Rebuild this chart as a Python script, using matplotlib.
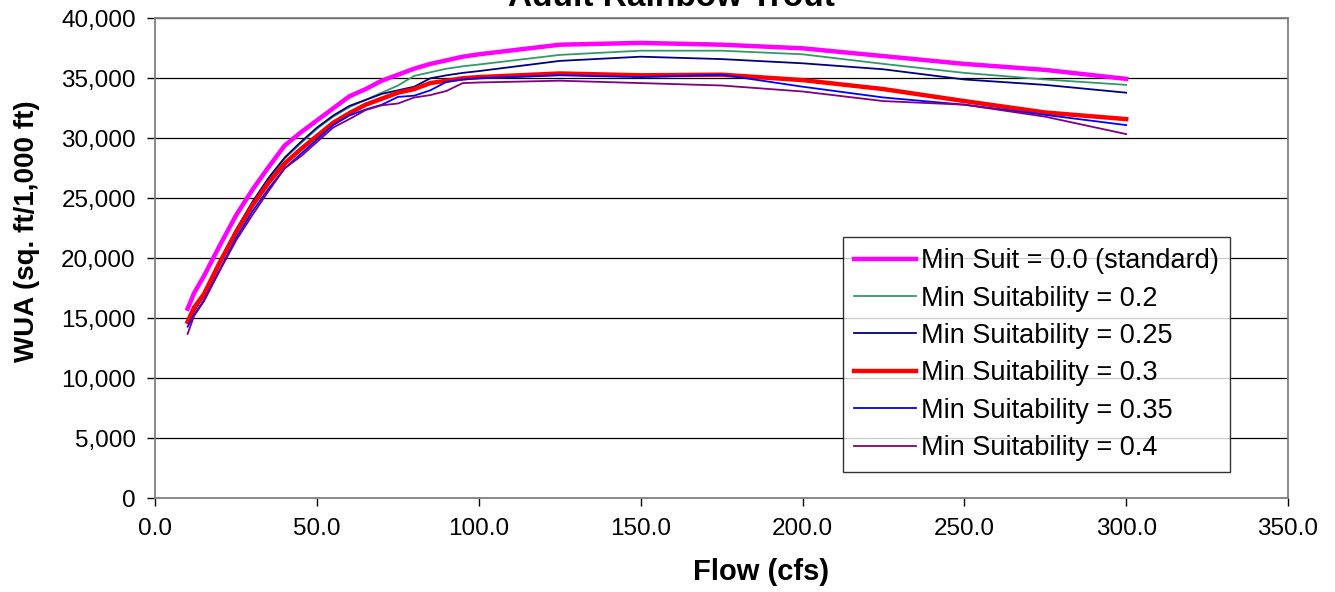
import matplotlib
matplotlib.use("Agg")
import matplotlib.pyplot as plt
from matplotlib.ticker import FuncFormatter, MultipleLocator

plt.rcParams['font.family'] = ['Liberation Sans', 'DejaVu Sans']

# ---- data ----
flow = [10, 12, 15, 20, 25, 30, 35, 40, 45, 50, 55, 60, 65, 70, 75, 80, 85,
        90, 95, 100, 125, 150, 175, 200, 225, 250, 275, 300]

wua_00 = [15800, 17100, 18500, 21100, 23600, 25700, 27600, 29400, 30500, 31500,
          32500, 33500, 34100, 34800, 35300, 35800, 36200, 36500, 36800, 37000,
          37800, 37950, 37800, 37500, 36850, 36200, 35700, 34950]
wua_02 = [14900, 15700, 16800, 19700, 22300, 24600, 26600, 28300, 29600, 30800,
          31800, 32600, 33200, 33800, 34400, 35200, 35500, 35800, 36000, 36150,
          36950, 37300, 37300, 37000, 36200, 35450, 34900, 34450]
wua_025 = [14700, 15600, 16900, 19800, 22400, 24700, 26700, 28400, 29700, 30900,
           31900, 32700, 33200, 33700, 34000, 34300, 35000, 35250, 35450, 35600,
           36450, 36800, 36600, 36250, 35750, 34900, 34450, 33800]
wua_03 = [14700, 15900, 17000, 19700, 22200, 24400, 26300, 27900, 29100, 30200,
          31300, 32100, 32800, 33300, 33800, 34100, 34600, 34800, 35000, 35100,
          35400, 35250, 35300, 34850, 34100, 33100, 32150, 31600]
wua_035 = [14300, 15300, 16500, 19100, 21700, 23900, 25800, 27500, 28700, 29900,
           31100, 31900, 32400, 32800, 33450, 33550, 34000, 34700, 34900, 35000,
           35250, 35100, 35300, 34300, 33400, 32800, 31950, 31100]
wua_04 = [13700, 15200, 16400, 19000, 21500, 23600, 25600, 27500, 28500, 29700,
          30900, 31600, 32350, 32750, 32900, 33400, 33600, 33950, 34600, 34650,
          34800, 34600, 34400, 33900, 33100, 32800, 31800, 30350]

labels = ["Min Suit = 0.0 (standard)", "Min Suitability = 0.2",
          "Min Suitability = 0.25", "Min Suitability = 0.3",
          "Min Suitability = 0.35", "Min Suitability = 0.4"]

# ---- figure ----
fig = plt.figure(figsize=(13.35, 5.92), dpi=100)
ax = fig.add_axes([0.1163, 0.1583, 0.8485, 0.8108])

ax.plot(flow, wua_00, color="#FF00FF", lw=3.2, label=labels[0])
ax.plot(flow, wua_02, color="#339966", lw=1.3, label=labels[1])
ax.plot(flow, wua_025, color="#000080", lw=1.3, label=labels[2])
ax.plot(flow, wua_03, color="#FF0000", lw=3.2, label=labels[3])
ax.plot(flow, wua_035, color="#0000FF", lw=1.3, label=labels[4])
ax.plot(flow, wua_04, color="#800080", lw=1.3, label=labels[5])

ax.set_xlim(0, 350)
ax.set_ylim(0, 40000)
ax.xaxis.set_major_locator(MultipleLocator(50))
ax.yaxis.set_major_locator(MultipleLocator(5000))
ax.xaxis.set_major_formatter(FuncFormatter(lambda v, p: f"{v:.1f}"))
ax.yaxis.set_major_formatter(FuncFormatter(lambda v, p: f"{v:,.0f}"))

ax.grid(axis="y", color="black", lw=0.9)
ax.set_axisbelow(True)
for s in ax.spines.values():
    s.set_color("#808080")
    s.set_linewidth(1.3)
ax.tick_params(direction="out", length=6, width=1, colors="black",
               labelsize=17.5, pad=8)

ax.set_xlabel("Flow (cfs)", fontsize=21, fontweight="bold")
ax.set_ylabel("WUA (sq. ft/1,000 ft)", fontsize=20, fontweight="bold")
ax.xaxis.set_label_coords(0.535, -0.124)
ax.yaxis.set_label_coords(-0.102, 0.557)

fig.text(671 / 1335, 1 - 6 / 592, "Adult Rainbow Trout", ha="center",
         va="baseline", fontsize=24, fontweight="bold")

leg = ax.legend(loc="lower left", bbox_to_anchor=(0.607, 0.055), fontsize=19.5,
                frameon=True, fancybox=False, borderaxespad=0,
                handlelength=2.3, handletextpad=0.2, labelspacing=0.42,
                borderpad=0.4)
leg.get_frame().set_edgecolor("black")
leg.get_frame().set_linewidth(1.0)

fig.savefig("out.png", dpi=100)
